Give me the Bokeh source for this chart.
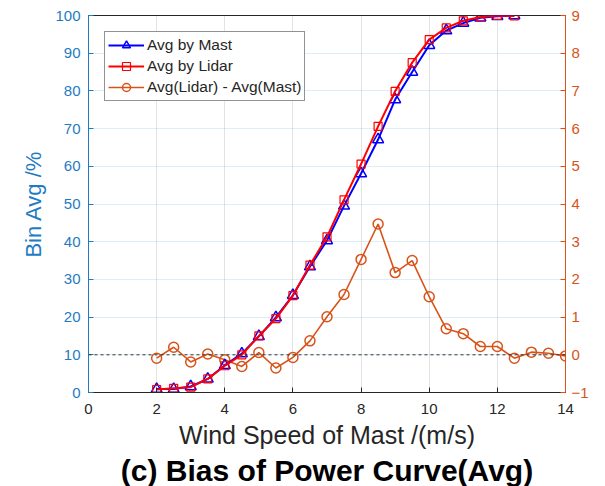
import math
from bokeh.plotting import figure
from bokeh.models import (Range1d, LinearAxis, Span, Legend, LegendItem, Title,
                          Label, FixedTicker)
from bokeh.embed import file_html
from bokeh.resources import INLINE

# ---- data ----
wind_speed = [2, 2.5, 3, 3.5, 4, 4.5, 5, 5.5, 6, 6.5, 7, 7.5, 8, 8.5, 9, 9.5,
              10, 10.5, 11, 11.5, 12, 12.5]
avg_mast = [0.9, 0.9, 1.6, 3.6, 7.2, 10.3, 14.9, 19.9, 25.8, 33.4, 40.3, 49.5,
            58.1, 67.1, 77.7, 85.0, 92.1, 96.0, 98.0, 99.4, 99.8, 100.0]
avg_lidar = [0.8, 1.1, 1.4, 3.6, 7.1, 10.0, 15.0, 19.6, 25.7, 33.8, 41.3, 51.1,
             60.6, 70.6, 79.9, 87.5, 93.6, 96.7, 98.6, 99.6, 100.0, 99.9]
bias_speed = [2, 2.5, 3, 3.5, 4, 4.5, 5, 5.5, 6, 6.5, 7, 7.5, 8, 8.5, 9, 9.5,
              10, 10.5, 11, 11.5, 12, 12.5, 13, 13.5, 14]
bias = [-0.09, 0.2, -0.19, 0.02, -0.13, -0.31, 0.06, -0.35, -0.07, 0.37, 1.01,
        1.6, 2.53, 3.47, 2.18, 2.5, 1.54, 0.69, 0.56, 0.22, 0.22, -0.09, 0.07,
        0.04, -0.03]
x_ticks = [0, 2, 4, 6, 8, 10, 12, 14]
left_ticks = [0, 10, 20, 30, 40, 50, 60, 70, 80, 90, 100]
right_ticks = [-1, 0, 1, 2, 3, 4, 5, 6, 7, 8, 9]

FONT = "Liberation Sans"
BLUE_AX = "#1F7BC2"
ORANGE = "#D95319"
DARK = "#262626"

p = figure(width=605, height=486, x_range=Range1d(0, 14), y_range=Range1d(0, 100),
           output_backend="svg", toolbar_location=None,
           min_border_left=88, min_border_right=40, min_border_top=15,
           min_border_bottom=20, background_fill_color="white",
           border_fill_color="white")
p.extra_y_ranges = {"bias": Range1d(-1, 9)}
p.outline_line_color = DARK
p.outline_line_width = 1

# grids
p.xgrid.ticker = FixedTicker(ticks=x_ticks)
p.ygrid.ticker = FixedTicker(ticks=left_ticks)
p.xgrid.grid_line_color = DARK
p.xgrid.grid_line_alpha = 0.13
p.ygrid.grid_line_color = "#0072BD"
p.ygrid.grid_line_alpha = 0.13

# x axis
xa = p.xaxis[0]
xa.ticker = FixedTicker(ticks=x_ticks)
xa.axis_label = "Wind Speed of Mast /(m/s)"
xa.axis_label_text_font = FONT
xa.axis_label_text_font_size = "25px"
xa.axis_label_text_font_style = "normal"
xa.axis_label_text_color = DARK
xa.axis_label_standoff = 4
xa.major_label_text_font = FONT
xa.major_label_text_font_size = "15px"
xa.major_label_text_color = DARK
xa.major_label_standoff = 11
xa.axis_line_color = DARK
xa.major_tick_line_color = DARK
xa.major_tick_in = 5
xa.major_tick_out = 0
xa.minor_tick_line_color = None

# left axis
ya = p.yaxis[0]
ya.ticker = FixedTicker(ticks=left_ticks)
ya.axis_label = "Bin Avg /%"
ya.axis_label_text_font = FONT
ya.axis_label_text_font_size = "22px"
ya.axis_label_text_font_style = "normal"
ya.axis_label_text_color = BLUE_AX
ya.axis_label_standoff = 6
ya.major_label_text_font = FONT
ya.major_label_text_font_size = "15px"
ya.major_label_text_color = BLUE_AX
ya.major_label_standoff = 8
ya.axis_line_color = BLUE_AX
ya.major_tick_line_color = BLUE_AX
ya.major_tick_in = 5
ya.major_tick_out = 0
ya.minor_tick_line_color = None

# right axis
ra = LinearAxis(y_range_name="bias", ticker=FixedTicker(ticks=right_ticks))
ra.major_label_text_font = FONT
ra.major_label_text_font_size = "15px"
ra.major_label_text_color = ORANGE
ra.major_label_standoff = 6
ra.axis_line_color = ORANGE
ra.major_tick_line_color = ORANGE
ra.major_tick_in = 5
ra.major_tick_out = 0
ra.minor_tick_line_color = None
p.add_layout(ra, "right")

# title below
p.add_layout(Title(text="(c) Bias of Power Curve(Avg)", text_font=FONT,
                   text_font_size="30px", text_font_style="bold",
                   text_color="#000000", align="center", standoff=0), "below")

# zero bias dashed line
p.add_layout(Span(location=0, dimension="width", y_range_name="bias",
                  line_color="#333333", line_dash="3 3", line_width=1))

# series
b_line = p.line(bias_speed, bias, y_range_name="bias", line_color=ORANGE, line_width=1.6)
b_mark = p.scatter(bias_speed, bias, y_range_name="bias", marker="circle", size=10,
                   fill_color=None, line_color=ORANGE, line_width=1.5)
m_line = p.line(wind_speed, avg_mast, line_color="#0000FF", line_width=2)
m_mark = p.scatter(wind_speed, avg_mast, marker="triangle", size=11,
                   fill_color=None, line_color="#0000FF", line_width=1.5)
l_line = p.line(wind_speed, avg_lidar, line_color="#FF0000", line_width=2)
l_mark = p.scatter(wind_speed, avg_lidar, marker="square", size=8,
                   fill_color=None, line_color="#FF0000", line_width=1.2)

legend = Legend(items=[
    LegendItem(label="Avg by Mast", renderers=[m_line, m_mark]),
    LegendItem(label="Avg by Lidar", renderers=[l_line, l_mark]),
    LegendItem(label="Avg(Lidar) - Avg(Mast)", renderers=[b_line, b_mark]),
], location=(16, 291))
legend.label_text_font = FONT
legend.label_text_font_size = "15.5px"
legend.label_text_color = DARK
legend.label_height = 20
legend.glyph_height = 20
legend.glyph_width = 36
legend.label_standoff = 3
legend.spacing = 1
legend.padding = 3
legend.margin = 0
legend.border_line_color = DARK
legend.border_line_width = 1
legend.background_fill_alpha = 1
p.add_layout(legend, "center")

# right axis label (partially outside the canvas, as in the reference)
p.add_layout(Label(x=15.35, y=49, text="Bias of Bin Avg /%", angle=math.pi / 2,
                   text_align="center", text_baseline="alphabetic",
                   text_font=FONT, text_font_size="22px", text_color=ORANGE))

open("out.html", "w").write(file_html(p, INLINE))
